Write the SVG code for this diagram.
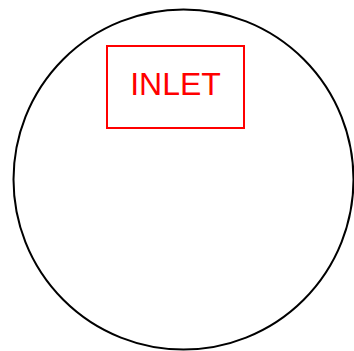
<svg xmlns="http://www.w3.org/2000/svg" width="354" height="351" viewBox="0 0 354 351">
<style>
.outline{fill:none;stroke:#000;stroke-width:2}
.box{fill:#fff;stroke:#f00;stroke-width:2}
.lbl{font-family:"Liberation Sans",Arial,sans-serif;font-size:32px;fill:#f00;text-anchor:middle}
</style>
<rect width="354" height="351" fill="#fff"/>
<g id="vessel"><circle class="outline" cx="183.5" cy="179.5" r="170"/></g>
<g id="connectors"></g>
<g id="inlet"><rect class="box" x="107" y="46" width="137" height="82"/><text class="lbl" x="175.5" y="94.5">INLET</text></g>
</svg>
